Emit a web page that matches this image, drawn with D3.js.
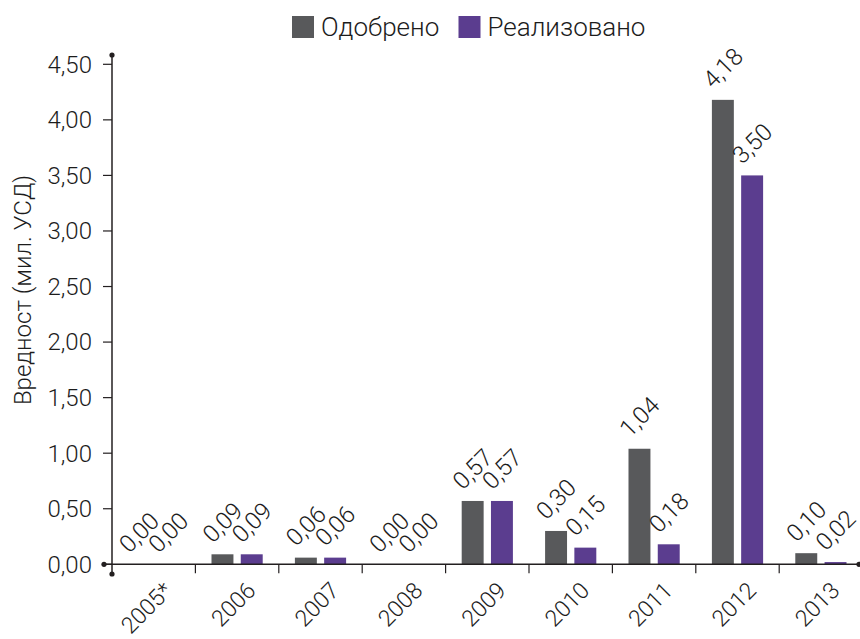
<!DOCTYPE html>
<html lang="mk">
<head>
  <meta charset="UTF-8">
  <script src="https://d3js.org/d3.v7.min.js"></script>
  <title>Одобрено / Реализовано</title>
  <style>
    body {
      margin: 0;
      background: #ffffff;
      font-family: Roboto, 'Noto Sans', sans-serif;
    }
    text {
      fill: #1c1c1c;
      font-weight: 300;
    }
  </style>
</head>
<body>
  <svg id="chart" width="860" height="639"></svg>

  <script>
    // chart data
    const categories = ["2005*", "2006", "2007", "2008", "2009", "2010", "2011", "2012", "2013"];
    const seriesNames = ["Одобрено", "Реализовано"];
    const approved = [0.00, 0.09, 0.06, 0.00, 0.57, 0.30, 1.04, 4.18, 0.10];
    const realized = [0.00, 0.09, 0.06, 0.00, 0.57, 0.15, 0.18, 3.50, 0.02];
    const yTicks = [0, 0.5, 1, 1.5, 2, 2.5, 3, 3.5, 4, 4.5];
    const colors = ["#58595b", "#5b3d8f"];

    const svg = d3.select("#chart");
    const axisColor = "#231f20";

    const x0 = 112, x1 = 862.6;
    const yBottom = 564.3, yTop = 64.3;

    const x = d3.scaleBand().domain(categories).range([x0, x1]).paddingInner(0).paddingOuter(0);
    const xSub = d3.scaleBand().domain(seriesNames).range([0, x.bandwidth()])
      .paddingInner(0.25).paddingOuter(0.55);
    const y = d3.scaleLinear().domain([0, 4.5]).range([yBottom, yTop]);
    const color = d3.scaleOrdinal().domain(seriesNames).range(colors);
    const fmt = v => d3.format(".2f")(v).replace(".", ",");

    const rows = categories.map((c, i) => ({
      cat: c,
      values: [
        { key: seriesNames[0], value: approved[i] },
        { key: seriesNames[1], value: realized[i] }
      ]
    }));

    // bars
    const groups = svg.append("g").selectAll("g")
      .data(rows)
      .enter()
      .append("g")
      .attr("transform", d => `translate(${x(d.cat)},0)`);

    groups.selectAll("rect")
      .data(d => d.values)
      .enter()
      .append("rect")
      .attr("x", d => xSub(d.key))
      .attr("width", xSub.bandwidth())
      .attr("y", d => y(d.value))
      .attr("height", d => y(0) - y(d.value))
      .attr("fill", d => color(d.key));

    // value labels
    groups.selectAll("text")
      .data(d => d.values)
      .enter()
      .append("text")
      .attr("transform", d => `translate(${xSub(d.key) + xSub.bandwidth() / 2},${y(d.value) - 32}) rotate(-45)`)
      .attr("text-anchor", "middle")
      .attr("dy", "0.35em")
      .style("font-size", "24px")
      .text(d => fmt(d.value));

    // y axis
    const yAxis = svg.append("g");
    yAxis.append("line")
      .attr("x1", x0).attr("x2", x0)
      .attr("y1", 55).attr("y2", 574)
      .attr("stroke", axisColor).attr("stroke-width", 1.5);
    yAxis.selectAll(".tick")
      .data(yTicks)
      .enter()
      .append("line")
      .attr("x1", x0 - 9).attr("x2", x0)
      .attr("y1", d => y(d)).attr("y2", d => y(d))
      .attr("stroke", axisColor).attr("stroke-width", 1.2);
    yAxis.selectAll("text")
      .data(yTicks)
      .enter()
      .append("text")
      .attr("x", 92)
      .attr("y", d => y(d))
      .attr("dy", "0.35em")
      .attr("text-anchor", "end")
      .style("font-size", "24px")
      .text(d => fmt(d));

    // x axis
    const xAxis = svg.append("g");
    xAxis.append("line")
      .attr("x1", 104).attr("x2", 859)
      .attr("y1", yBottom).attr("y2", yBottom)
      .attr("stroke", axisColor).attr("stroke-width", 1.5);
    xAxis.selectAll(".tick")
      .data(categories.slice(1))
      .enter()
      .append("line")
      .attr("x1", d => x(d)).attr("x2", d => x(d))
      .attr("y1", yBottom).attr("y2", yBottom + 9)
      .attr("stroke", axisColor).attr("stroke-width", 1.2);
    xAxis.selectAll("text")
      .data(categories)
      .enter()
      .append("text")
      .attr("transform", d => `translate(${x(d) + x.bandwidth() / 2 + 20},592) rotate(-45)`)
      .attr("text-anchor", "end")
      .style("font-size", "23px")
      .text(d => d);

    // axis end dots
    const dots = [[104, yBottom], [x0, 574], [x0, 55], [859, yBottom]];
    svg.append("g").selectAll("circle")
      .data(dots)
      .enter()
      .append("circle")
      .attr("cx", d => d[0]).attr("cy", d => d[1])
      .attr("r", 2.6)
      .attr("fill", axisColor);

    // y title
    svg.append("text")
      .attr("transform", "translate(31,290) rotate(-90)")
      .attr("text-anchor", "middle")
      .style("font-size", "24px")
      .text("Вредност (мил. УСД)");

    // legend
    const legendX = [292, 458.5];
    const legend = svg.append("g").selectAll("g")
      .data(seriesNames)
      .enter()
      .append("g")
      .attr("transform", (d, i) => `translate(${legendX[i]},16)`);
    legend.append("rect")
      .attr("width", 22).attr("height", 22)
      .attr("fill", d => color(d));
    legend.append("text")
      .attr("x", 29).attr("y", 20)
      .style("font-size", "26px")
      .text(d => d);
  </script>
</body>
</html>
